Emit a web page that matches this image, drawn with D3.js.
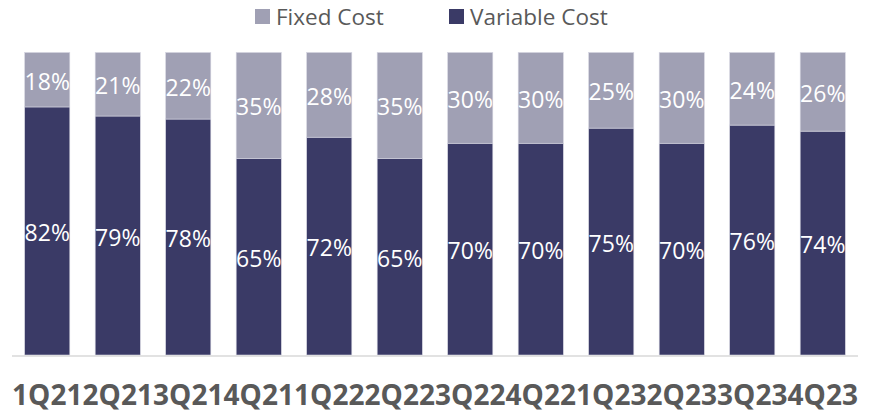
<!DOCTYPE html>
<html>
<head>
<meta charset="utf-8">
<script src="https://cdn.jsdelivr.net/npm/d3@7"></script>
<style>
  body { margin: 0; background: #fff; }
  text { font-family: "Open Sans", sans-serif; }
</style>
</head>
<body>
<svg width="872" height="412"></svg>
<script>
// data
const quarters = ["1Q21","2Q21","3Q21","4Q21","1Q22","2Q22","3Q22","4Q22","1Q23","2Q23","3Q23","4Q23"];
const variableCost = [82, 79, 78, 65, 72, 65, 70, 70, 75, 70, 76, 74];
const fixedCost = [18, 21, 22, 35, 28, 35, 30, 30, 25, 30, 24, 26];
const seriesNames = ["Fixed Cost", "Variable Cost"];

const colors = { "Fixed Cost": "#a0a0b4", "Variable Cost": "#3a3a66" };

const svg = d3.select("svg");

const x = d3.scaleBand(quarters, [12, 858]).paddingInner(0.36).paddingOuter(0.18);
const y = d3.scaleLinear([0, 100], [355, 52.5]);

// stack variable at bottom, fixed on top
const rows = quarters.map((q, i) => ({ q, "Variable Cost": variableCost[i], "Fixed Cost": fixedCost[i] }));
const stack = d3.stack().keys(["Variable Cost", "Fixed Cost"])(rows);

const layers = svg.append("g")
  .selectAll("g")
  .data(stack)
  .join("g")
    .attr("fill", d => colors[d.key]);

layers.selectAll("rect")
  .data(d => d)
  .join("rect")
    .attr("x", d => x(d.data.q))
    .attr("y", d => y(d[1]))
    .attr("width", x.bandwidth())
    .attr("height", d => y(d[0]) - y(d[1]))
    .attr("stroke", "#d4d4e0")
    .attr("stroke-width", 0.6);

// value labels
layers.selectAll("text")
  .data(d => d)
  .join("text")
    .attr("x", d => x(d.data.q) + x.bandwidth() / 2)
    .attr("y", d => (y(d[0]) + y(d[1])) / 2 + 10)
    .attr("text-anchor", "middle")
    .attr("fill", "#fff")
    .attr("font-size", 23)
    .text(d => (d[1] - d[0]) + "%");

// baseline
svg.append("line")
  .attr("x1", 12).attr("x2", 858)
  .attr("y1", 356).attr("y2", 356)
  .attr("stroke", "#d9d9d9")
  .attr("stroke-width", 1.5);

// category labels
const xAxis = svg.append("g")
  .attr("transform", "translate(0,356)")
  .call(d3.axisBottom(x).tickSize(0).tickPadding(0));
xAxis.select(".domain").remove();
xAxis.selectAll("text")
  .attr("y", 49)
  .attr("dy", 0)
  .attr("fill", "#595959")
  .attr("font-size", 28)
  .attr("font-weight", "bold")
  .attr("font-family", "Open Sans, sans-serif");

// legend
const legendX = [255, 449];
const legend = svg.append("g")
  .selectAll("g")
  .data(seriesNames)
  .join("g")
    .attr("transform", (d, i) => `translate(${legendX[i]},9)`);
legend.append("rect")
  .attr("width", 15).attr("height", 15)
  .attr("fill", d => colors[d]);
legend.append("text")
  .attr("x", 21).attr("y", 16)
  .attr("fill", "#595959")
  .attr("font-size", 22.5)
  .text(d => d);
</script>
</body>
</html>
